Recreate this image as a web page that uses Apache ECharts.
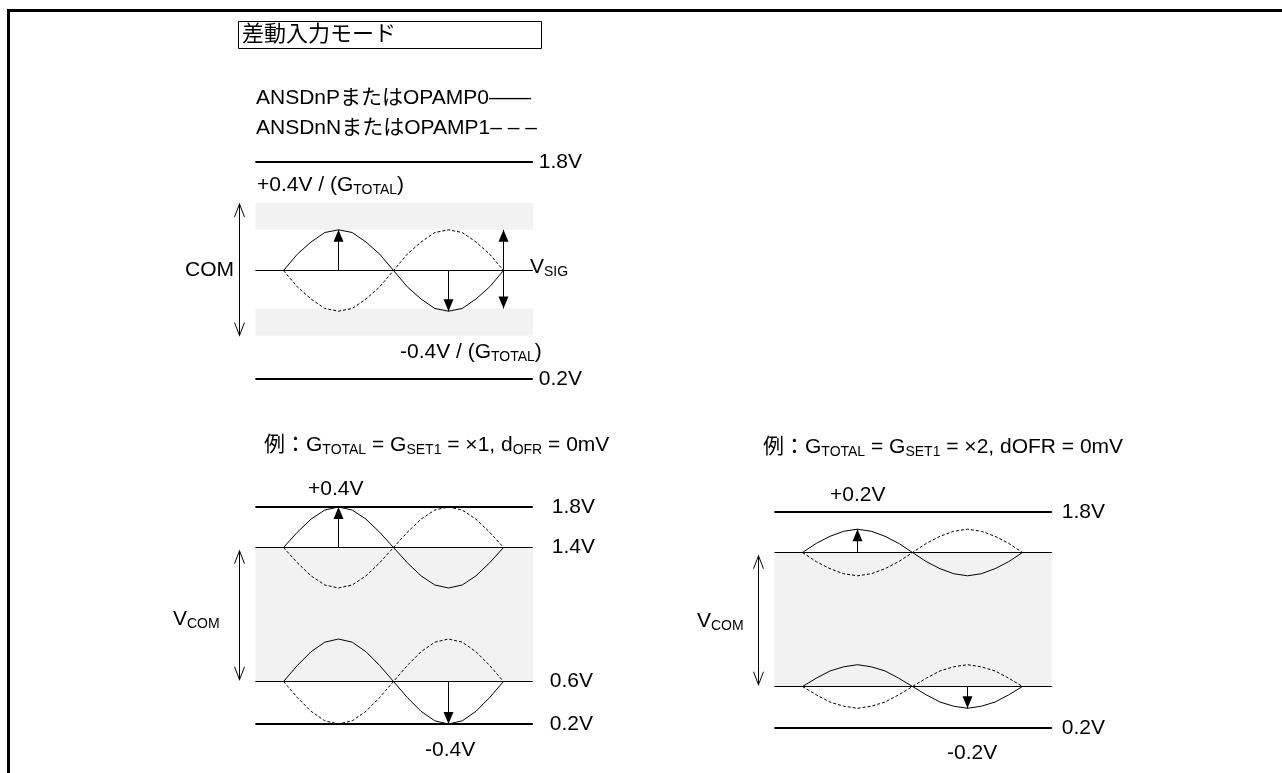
<!DOCTYPE html>
<html><head><meta charset="utf-8">
<script src="https://cdn.jsdelivr.net/npm/echarts@6/dist/echarts.min.js"></script>
<style>html,body{margin:0;padding:0;background:#fff}#c{width:1282px;height:773px}</style>
</head><body><div id="c"></div>
<script>
// ---------- DATA (phase in degrees, levels in volts) ----------
const phase = [0,22.5,45,67.5,90,112.5,135,157.5,180,202.5,225,247.5,270,292.5,315,337.5,360];
const railSpan = [-46, 408];
const comArrowX = -72;

// Panel 1: generic differential input mode
const p1Rails = [1.8, 0.2];
const p1Com = [1.0];
const p1Bands = [[1.30, 1.50], [0.52, 0.72]];
const p1P = [1.00,1.12,1.21,1.28,1.30,1.28,1.21,1.12,1.00,0.88,0.79,0.72,0.70,0.72,0.79,0.88,1.00];
const p1N = [1.00,0.88,0.79,0.72,0.70,0.72,0.79,0.88,1.00,1.12,1.21,1.28,1.30,1.28,1.21,1.12,1.00];
const p1PeakArrow = [90, 1.0, 1.30];
const p1TroughArrow = [270, 1.0, 0.70];
const p1SigArrow = [360, 1.30, 0.72];
const p1ComArrow = [1.49, 0.52];

// Panel 2: G_TOTAL = x1
const p2Rails = [1.8, 0.2];
const p2ComRange = [1.4, 0.6];
const p2HiP = [1.40,1.55,1.68,1.77,1.80,1.77,1.68,1.55,1.40,1.25,1.12,1.03,1.00,1.03,1.12,1.25,1.40];
const p2HiN = [1.40,1.25,1.12,1.03,1.00,1.03,1.12,1.25,1.40,1.55,1.68,1.77,1.80,1.77,1.68,1.55,1.40];
const p2LoP = [0.60,0.75,0.88,0.97,1.00,0.97,0.88,0.75,0.60,0.45,0.32,0.23,0.20,0.23,0.32,0.45,0.60];
const p2LoN = [0.60,0.45,0.32,0.23,0.20,0.23,0.32,0.45,0.60,0.75,0.88,0.97,1.00,0.97,0.88,0.75,0.60];
const p2PeakArrow = [90, 1.4, 1.8];
const p2TroughArrow = [270, 0.6, 0.2];
const p2VcomArrow = [1.38, 0.61];

// Panel 3: G_TOTAL = x2
const p3Rails = [1.8, 0.2];
const p3ComRange = [1.4, 0.6];
const p3HiP = [1.40,1.49,1.56,1.61,1.63,1.61,1.56,1.49,1.40,1.31,1.24,1.19,1.17,1.19,1.24,1.31,1.40];
const p3HiN = [1.40,1.31,1.24,1.19,1.17,1.19,1.24,1.31,1.40,1.49,1.56,1.61,1.63,1.61,1.56,1.49,1.40];
const p3LoP = [0.60,0.68,0.75,0.79,0.81,0.79,0.75,0.68,0.60,0.52,0.45,0.41,0.39,0.41,0.45,0.52,0.60];
const p3LoN = [0.60,0.52,0.45,0.41,0.39,0.41,0.45,0.52,0.60,0.68,0.75,0.79,0.81,0.79,0.75,0.68,0.60];
const p3PeakArrow = [90, 1.4, 1.63];
const p3TroughArrow = [270, 0.6, 0.39];
const p3VcomArrow = [1.38, 0.61];

// ---------- LAYOUT / STYLE ----------
const F = "'Liberation Sans','Noto Sans CJK JP',sans-serif";
const GRAY = '#f2f2f2';
const FS = 21;
const K = 220 / 360; // px per degree
const layout = [
  {x0:283.5, top:162,   height:217, min:0.2, max:1.8}, // 0 panel1
  {x0:283.5, top:507,   height:81,  min:1.0, max:1.8}, // 1 p2 hi
  {x0:283.5, top:547.5, height:134, min:0.6, max:1.4}, // 2 p2 vcom
  {x0:283.5, top:639,   height:85,  min:0.2, max:1.0}, // 3 p2 lo
  {x0:802.5, top:512,   height:81,  min:1.0, max:1.8}, // 4 p3 hi
  {x0:802.5, top:552.5, height:134, min:0.6, max:1.4}, // 5 p3 vcom
  {x0:802.5, top:645,   height:83,  min:0.2, max:1.0}  // 6 p3 lo
];
const grid = layout.map(l => ({left:l.x0 - 90*K, top:l.top, width:500*K, height:l.height, containLabel:false}));
const xAxis = layout.map((l,i) => ({type:'value', gridIndex:i, min:-90, max:410, show:false}));
const yAxis = layout.map((l,i) => ({type:'value', gridIndex:i, min:l.min, max:l.max, show:false}));

const HEAD = {
  fillUp:   {symbol:'path://M5,0L10,12L0,12Z', symbolSize:[10,12], symbolOffset:[0,6],  itemStyle:{color:'#000', borderWidth:0}},
  fillDown: {symbol:'path://M0,0L10,0L5,12Z',  symbolSize:[10,12], symbolOffset:[0,-6], itemStyle:{color:'#000', borderWidth:0}},
  openUp:   {symbol:'path://M0,13L5,0L10,13',  symbolSize:[10,13], symbolOffset:[0,6.5], itemStyle:{color:'transparent', borderColor:'#000', borderWidth:1}},
  openDown: {symbol:'path://M0,0L5,13L10,0',   symbolSize:[10,13], symbolOffset:[0,-6.5], itemStyle:{color:'transparent', borderColor:'#000', borderWidth:1}}
};
const series = [];
const base = gi => ({type:'line', xAxisIndex:gi, yAxisIndex:gi, clip:false, silent:true, animation:false});

function pt(x, y, head) {
  return head ? Object.assign({value:[x,y]}, HEAD[head]) : {value:[x,y], symbol:'none'};
}
function arrow(gi, x, y0, y1, h0, h1, extra) {
  series.push(Object.assign(base(gi), {z:4, showSymbol:true, showAllSymbol:true,
    lineStyle:{color:'#000', width:1}, data:[pt(x,y0,h0), pt(x,y1,h1)]}, extra || {}));
}
function wave(gi, arr, dashed) {
  series.push(Object.assign(base(gi), {z:3, symbol:'none',
    lineStyle:{color:'#000', width:1, type: dashed ? [3,2] : 'solid'},
    data: phase.map((p,i) => [p, arr[i]])}));
}
function rail(gi, v, width, labelDist, extra) {
  const s = Object.assign(base(gi), {z:2, symbol:'none', lineStyle:{color:'#000', width:width},
    data:[[railSpan[0], v], [railSpan[1], v]]}, extra || {});
  if (labelDist != null) {
    s.endLabel = {show:true, formatter: v.toFixed(1) + 'V', distance:labelDist, color:'#000', fontSize:FS, fontFamily:F};
  }
  series.push(s);
}
function bandArea(ranges) {
  return {markArea:{silent:true, itemStyle:{color:GRAY}, data: ranges.map(r => [{coord:[railSpan[0], r[1]]}, {coord:[railSpan[1], r[0]]}])}};
}

// Panel 1
rail(0, p1Rails[0], 2, 6);
rail(0, p1Rails[1], 2, 6);
rail(0, p1Com[0], 1, null, bandArea(p1Bands));
wave(0, p1P, false); wave(0, p1N, true);
arrow(0, p1PeakArrow[0], p1PeakArrow[1], p1PeakArrow[2], null, 'fillUp');
arrow(0, p1TroughArrow[0], p1TroughArrow[1], p1TroughArrow[2], null, 'fillDown');
arrow(0, p1SigArrow[0], p1SigArrow[1], p1SigArrow[2], 'fillUp', 'fillDown');
arrow(0, comArrowX, p1ComArrow[0], p1ComArrow[1], 'openUp', 'openDown');

// Panel 2
rail(1, p2Rails[0], 2, 19);
rail(1, p2ComRange[0], 1, 19);
rail(3, p2ComRange[1], 1, 17);
rail(3, p2Rails[1], 2, 17);
wave(1, p2HiP, false); wave(1, p2HiN, true);
wave(3, p2LoP, false); wave(3, p2LoN, true);
arrow(1, p2PeakArrow[0], p2PeakArrow[1], p2PeakArrow[2], null, 'fillUp');
arrow(3, p2TroughArrow[0], p2TroughArrow[1], p2TroughArrow[2], null, 'fillDown');
arrow(2, comArrowX, p2VcomArrow[0], p2VcomArrow[1], 'openUp', 'openDown', bandArea([[p2ComRange[1], p2ComRange[0]]]));

// Panel 3
rail(4, p3Rails[0], 2, 10);
rail(4, p3ComRange[0], 1, null);
rail(6, p3ComRange[1], 1, null);
rail(6, p3Rails[1], 2, 10);
wave(4, p3HiP, false); wave(4, p3HiN, true);
wave(6, p3LoP, false); wave(6, p3LoN, true);
arrow(4, p3PeakArrow[0], p3PeakArrow[1], p3PeakArrow[2], null, 'fillUp');
arrow(6, p3TroughArrow[0], p3TroughArrow[1], p3TroughArrow[2], null, 'fillDown');
arrow(5, comArrowX, p3VcomArrow[0], p3VcomArrow[1], 'openUp', 'openDown', bandArea([[p3ComRange[1], p3ComRange[0]]]));

// ---------- TEXT ----------
const RICH = {
  m: {fontSize:FS, fontFamily:F, fill:'#000', lineHeight:25, verticalAlign:'middle'},
  s: {fontSize:14, fontFamily:F, fill:'#000', verticalAlign:'bottom'}
};
function T(x, y, text, align) {
  return {type:'text', x:x, y:y, silent:true, z:10,
    style:{text:text, rich:RICH, align:align || 'left', verticalAlign:'middle', fill:'#000', fontSize:FS, fontFamily:F}};
}
function P(x, y, text, size, align) {
  return {type:'text', x:x, y:y, silent:true, z:10,
    style:{text:text, align:align || 'left', verticalAlign:'middle', fill:'#000', fontSize:size, fontFamily:F}};
}
const graphic = [
  {type:'line', silent:true, shape:{x1:7, y1:10.5, x2:1282, y2:10.5}, style:{stroke:'#000', lineWidth:3}},
  {type:'line', silent:true, shape:{x1:8.5, y1:9, x2:8.5, y2:773}, style:{stroke:'#000', lineWidth:3}},
  {type:'rect', silent:true, shape:{x:238.5, y:21.5, width:303, height:27}, style:{fill:'#fff', stroke:'#000', lineWidth:1}},
  P(242, 35, '差動入力モード', 22),
  P(256, 98, 'ANSDnPまたはOPAMP0——', FS),
  P(256, 128, 'ANSDnNまたはOPAMP1– – –', FS),
  T(257, 185, '{m|+0.4V / (G}{s|TOTAL}{m|)}'),
  T(400, 352, '{m|-0.4V / (G}{s|TOTAL}{m|)}'),
  T(234, 270, '{m|COM}', 'right'),
  T(530, 267, '{m|V}{s|SIG}'),
  T(264, 445, '{m|例：G}{s|TOTAL}{m| = G}{s|SET1}{m| = ×1, d}{s|OFR}{m| = 0mV}'),
  T(308, 489, '{m|+0.4V}'),
  T(173, 619, '{m|V}{s|COM}'),
  T(425, 750, '{m|-0.4V}'),
  T(763, 447, '{m|例：G}{s|TOTAL}{m| = G}{s|SET1}{m| = ×2, dOFR = 0mV}'),
  T(830, 495, '{m|+0.2V}'),
  T(697, 621, '{m|V}{s|COM}'),
  T(947, 753, '{m|-0.2V}')
];

const chart = echarts.init(document.getElementById('c'), null, {renderer:'canvas'});
chart.setOption({
  animation:false,
  backgroundColor:'#fff',
  grid:grid, xAxis:xAxis, yAxis:yAxis,
  series:series,
  graphic:graphic
});
</script>
</body></html>
